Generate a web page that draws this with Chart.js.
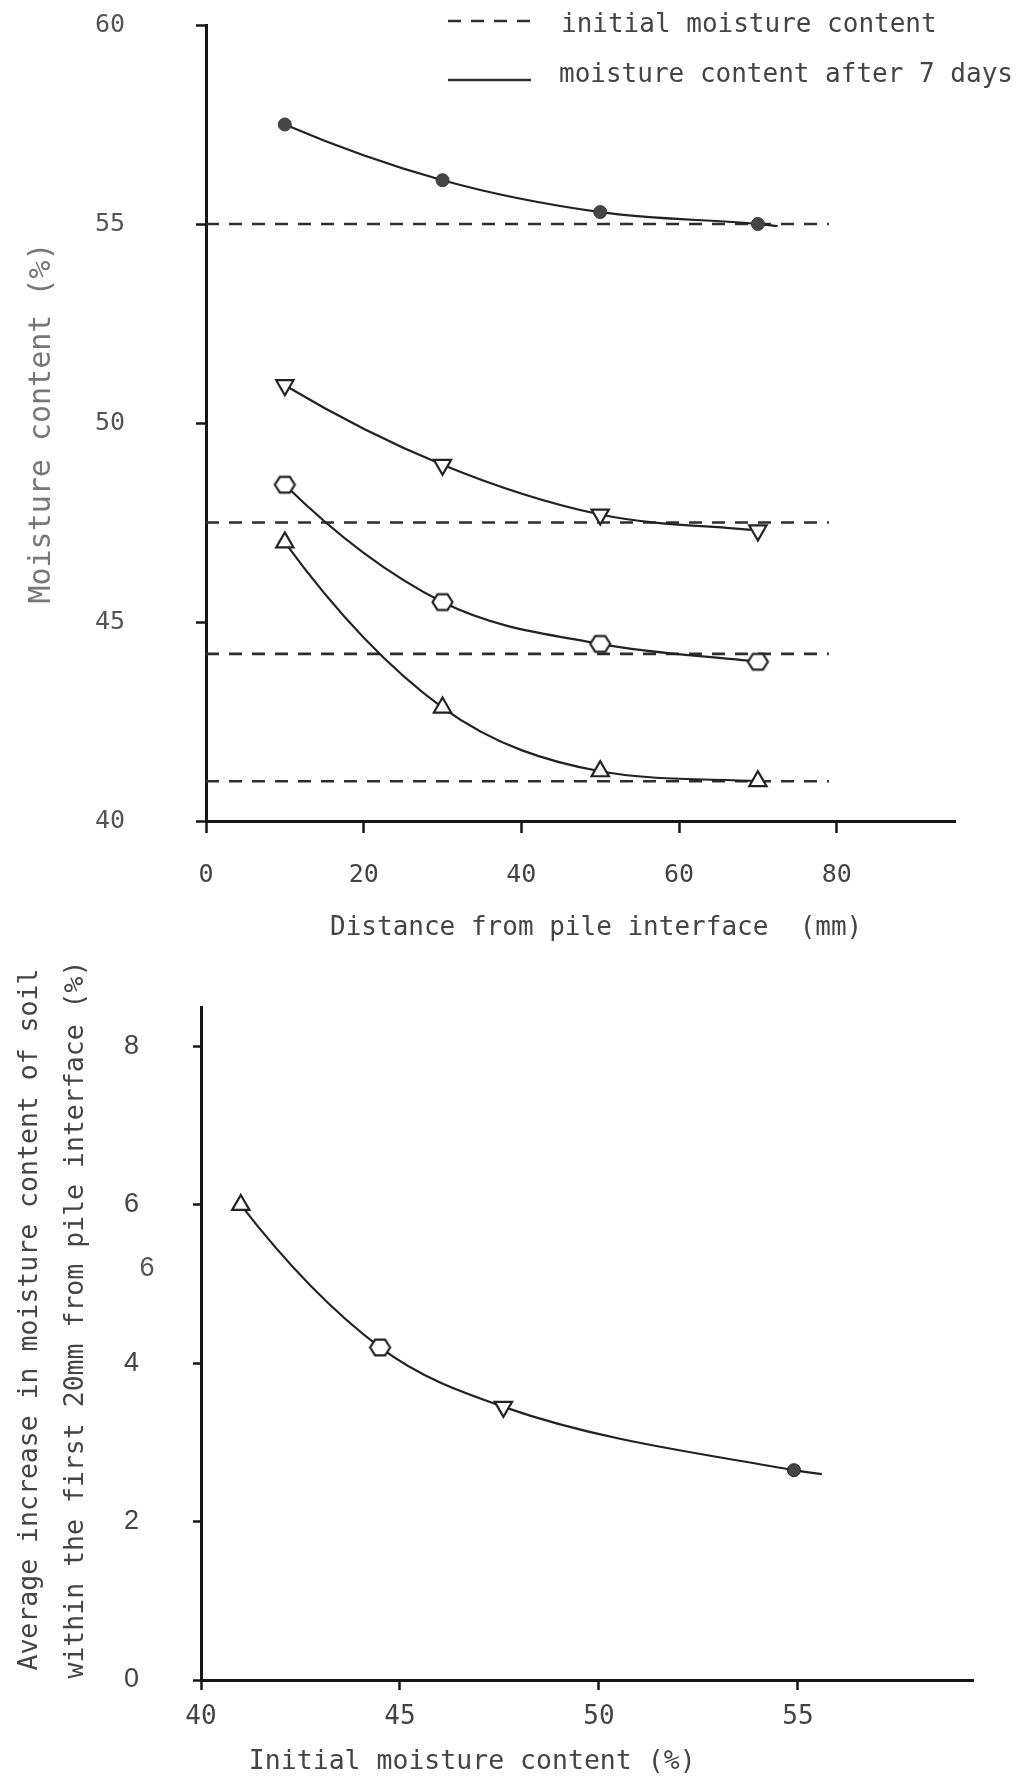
<!DOCTYPE html>
<html>
<head>
<meta charset="utf-8">
<script src="https://cdn.jsdelivr.net/npm/chart.js@4.4.1/dist/chart.umd.min.js"></script>
<style>
html, body { margin: 0; padding: 0; background: #ffffff; }
#wrap1 { position: absolute; left: 0; top: 0; width: 1024px; height: 950px; }
#wrap2 { position: absolute; left: 0; top: 950px; width: 1024px; height: 833px; }
</style>
</head>
<body>
<div id="wrap1"><canvas id="c1" width="1024" height="950"></canvas></div>
<div id="wrap2"><canvas id="c2" width="1024" height="833"></canvas></div>
<script>
// ---------------- data ----------------
// Upper chart: moisture content vs distance from pile interface
const distance = [10, 30, 50, 70];                 // mm
const initialMoisture = [55, 47.5, 44.2, 41];      // % (dashed lines)
const initialLineExtent = [0, 79];                 // mm, span of dashed lines
const mcAfter55 = [57.5, 56.1, 55.3, 55.0];        // filled circles
const mcAfter475 = [50.95, 48.95, 47.7, 47.3];     // down triangles
const mcAfter442 = [48.45, 45.5, 44.45, 44.0];     // hexagons
const mcAfter41 = [47.0, 42.85, 41.25, 41.0];      // up triangles
const curve55Tail = [72.5, 54.95];                 // end of fitted curve (x, y)
const distanceTicks = [0, 20, 40, 60, 80];
const moistureTicks = [40, 45, 50, 55, 60];

// Lower chart: average increase vs initial moisture content
const initialMC = [41.0, 44.5, 47.6, 54.9];
const avgIncrease = [6.0, 4.2, 3.45, 2.65];
const avgCurveTail = [55.6, 2.6];                  // end of fitted curve (x, y)
const initialMCTicks = [40, 45, 50, 55];
const increaseTicks = [0, 2, 4, 6, 8];
const strayLabel = { text: '6', value: 5.2 };      // stray scanned label

// ---------------- styling ----------------
const MONO = "'DejaVu Sans Mono', 'Liberation Mono', monospace";
const SANS = "'Liberation Sans', 'DejaVu Sans', sans-serif";
const INK = '#222222';
const AXIS = '#161616';

function hexagonImage(r, lw) {
  const size = Math.ceil(2 * r + lw + 2);
  const c = document.createElement('canvas');
  c.width = size; c.height = size;
  const g = c.getContext('2d');
  g.beginPath();
  for (let i = 0; i < 6; i++) {
    const a = i * Math.PI / 3;
    const px = size / 2 + r * Math.cos(a);
    const py = size / 2 + r * Math.sin(a) * 0.9;
    if (i === 0) g.moveTo(px, py); else g.lineTo(px, py);
  }
  g.closePath();
  g.fillStyle = '#ffffff'; g.fill();
  g.lineWidth = lw; g.strokeStyle = INK; g.stroke();
  return c;
}
const HEX = hexagonImage(10, 2.2);

function pts(xs, ys) { return xs.map((x, i) => ({ x: x, y: ys[i] })); }

function curve(data, style, opts) {
  return Object.assign({
    data: data,
    borderColor: INK,
    borderWidth: 2.2,
    cubicInterpolationMode: 'monotone',
    convexStart: true,
    pointStyle: style,
    pointRadius: 10,
    pointBorderWidth: 2.2,
    pointBorderColor: INK,
    pointBackgroundColor: '#ffffff',
    pointHoverRadius: 0,
    fill: false
  }, opts || {});
}

// Give each fitted curve a curved (parabolic) start instead of a straight secant start
const convexStartPlugin = {
  id: 'convexStart',
  beforeDatasetDraw(chart, args) {
    const meta = args.meta;
    const ds = chart.data.datasets[args.index];
    if (!ds.convexStart) return;
    const line = meta.dataset;
    if (!line || !line.updateControlPoints) return;
    line.updateControlPoints(chart.chartArea, meta.indexAxis);
    const p = meta.data;
    if (p.length < 3) return;
    const p0 = p[0], p1 = p[1];
    if (p1.x === p1.cp1x) return;
    const m1 = (p1.y - p1.cp1y) / (p1.x - p1.cp1x);
    const s = (p1.y - p0.y) / (p1.x - p0.x);
    const m0 = 2 * s - m1;
    const dx = (p1.x - p0.x) / 3;
    p0.cp2x = p0.x + dx;
    p0.cp2y = p0.y + m0 * dx;
  }
};

// ---------------- upper chart ----------------
const upperDatasets = [
  curve(pts(distance, mcAfter55).concat([{ x: curve55Tail[0], y: curve55Tail[1] }]), 'circle', {
    pointRadius: distance.map(() => 6.5).concat([0]),
    pointBackgroundColor: '#454545', pointBorderColor: '#3a3a3a', pointBorderWidth: 1
  }),
  curve(pts(distance, mcAfter475), 'triangle', { pointRotation: 180 }),
  curve(pts(distance, mcAfter442), HEX, {}),
  curve(pts(distance, mcAfter41), 'triangle', {})
];
initialMoisture.forEach(v => {
  upperDatasets.push({
    data: initialLineExtent.map(x => ({ x: x, y: v })),
    borderColor: '#2e2e2e',
    borderWidth: 2.6,
    borderDash: [13, 10],
    pointRadius: 0,
    pointHoverRadius: 0,
    fill: false
  });
});

const legendPlugin = {
  id: 'paperLegend',
  afterDraw(chart) {
    const ctx = chart.ctx;
    ctx.save();
    ctx.strokeStyle = '#2e2e2e';
    ctx.lineWidth = 2.5;
    ctx.setLineDash([13, 10]);
    ctx.beginPath(); ctx.moveTo(448, 21); ctx.lineTo(532, 21); ctx.stroke();
    ctx.setLineDash([]);
    ctx.beginPath(); ctx.moveTo(448, 80); ctx.lineTo(531, 80); ctx.stroke();
    ctx.fillStyle = '#444444';
    ctx.font = "26px " + MONO;
    ctx.textAlign = 'left';
    ctx.textBaseline = 'alphabetic';
    ctx.fillText('initial moisture content', 561, 32);
    ctx.fillText('moisture content after 7 days', 559, 82);
    ctx.restore();
  }
};

function noVerticalLabelPadding(s) { s.paddingTop = 0; s.paddingBottom = 0; }

new Chart(document.getElementById('c1'), {
  type: 'line',
  data: { datasets: upperDatasets },
  plugins: [legendPlugin, convexStartPlugin],
  options: {
    responsive: false,
    animation: false,
    events: [],
    layout: { padding: { left: 0, right: 69, top: 25, bottom: 0 } },
    plugins: { legend: { display: false }, tooltip: { enabled: false } },
    scales: {
      x: {
        type: 'linear', min: 0, max: 95,
        afterBuildTicks: s => { s.ticks = distanceTicks.map(v => ({ value: v })); },
        afterFit: s => { s.height = 129; },
        grid: { drawOnChartArea: false, drawTicks: true, tickLength: 12, tickWidth: 2.5, tickColor: AXIS },
        border: { display: true, color: AXIS, width: 3 },
        ticks: { padding: 27, color: '#444444', font: { family: MONO, size: 25 } },
        title: {
          display: true, text: '  Distance from pile interface  (mm)', color: '#444444',
          font: { family: MONO, size: 26 }, padding: { top: 0, bottom: 6 }
        }
      },
      y: {
        type: 'linear', min: 40, max: 60,
        afterBuildTicks: s => { s.ticks = moistureTicks.map(v => ({ value: v })); },
        afterFit: s => { s.width = 206; noVerticalLabelPadding(s); },
        grid: { drawOnChartArea: false, drawTicks: true, tickLength: 10, tickWidth: 2.5, tickColor: AXIS },
        border: { display: true, color: AXIS, width: 3 },
        ticks: { padding: 71, color: '#555555', font: { family: MONO, size: 25 } },
        title: {
          display: true, text: 'Moisture content (%)', color: '#777777',
          font: { family: MONO, size: 30 }, padding: { top: 24, bottom: 0 }
        }
      }
    }
  }
});

// ---------------- lower chart ----------------
const lowerData = pts(initialMC, avgIncrease).concat([{ x: avgCurveTail[0], y: avgCurveTail[1] }]);
const lowerDataset = curve(lowerData, ['triangle', HEX, 'triangle', 'circle', 'circle'], {
  pointRotation: [0, 0, 180, 0, 0],
  pointRadius: [10, 10, 10, 6.5, 0],
  pointBackgroundColor: ['#ffffff', '#ffffff', '#ffffff', '#454545', '#454545'],
  pointBorderWidth: [2.2, 2.2, 2.2, 1, 1]
});

const strayPlugin = {
  id: 'strayLabel',
  afterDraw(chart) {
    const ctx = chart.ctx;
    const xs = chart.scales.x, ys = chart.scales.y;
    ctx.save();
    ctx.fillStyle = '#555555';
    ctx.font = "27px " + SANS;
    ctx.textAlign = 'center';
    ctx.textBaseline = 'middle';
    ctx.fillText(strayLabel.text, xs.left - 54, ys.getPixelForValue(strayLabel.value));
    ctx.restore();
  }
};

new Chart(document.getElementById('c2'), {
  type: 'line',
  data: { datasets: [lowerDataset] },
  plugins: [strayPlugin, convexStartPlugin],
  options: {
    responsive: false,
    animation: false,
    events: [],
    layout: { padding: { left: 0, right: 51, top: 57, bottom: 0 } },
    plugins: { legend: { display: false }, tooltip: { enabled: false } },
    scales: {
      x: {
        type: 'linear', min: 40, max: 59.4,
        afterBuildTicks: s => { s.ticks = initialMCTicks.map(v => ({ value: v })); },
        afterFit: s => { s.height = 103; },
        grid: { drawOnChartArea: false, drawTicks: true, tickLength: 10, tickWidth: 2.5, tickColor: AXIS },
        border: { display: true, color: AXIS, width: 3 },
        ticks: { padding: 12, color: '#444444', font: { family: MONO, size: 26 } },
        title: {
          display: true, align: 'start', text: '   Initial moisture content (%)', color: '#444444',
          font: { family: MONO, size: 26.5 }, padding: { top: 0, bottom: 5 }
        }
      },
      y: {
        type: 'linear', min: 0, max: 8.5,
        afterBuildTicks: s => { s.ticks = increaseTicks.map(v => ({ value: v })); },
        afterFit: s => { s.width = 201; noVerticalLabelPadding(s); },
        grid: { drawOnChartArea: false, drawTicks: true, tickLength: 8, tickWidth: 2.5, tickColor: AXIS },
        border: { display: true, color: AXIS, width: 3 },
        ticks: { padding: 54, color: '#444444', font: { family: SANS, size: 27 } },
        title: {
          display: true,
          text: ['   Average increase in moisture content of soil', '   within the first 20mm from pile interface (%)'],
          color: '#444444',
          font: { family: MONO, size: 26.5, lineHeight: '46px' },
          padding: { top: 7, bottom: 0 }
        }
      }
    }
  }
});
</script>
</body>
</html>
